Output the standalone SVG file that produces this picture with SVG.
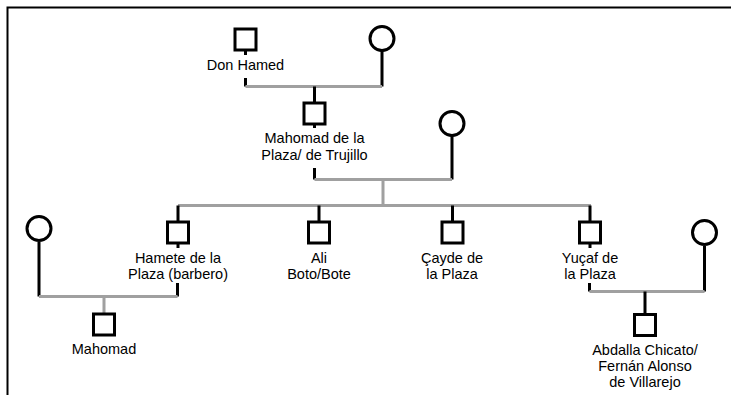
<svg xmlns="http://www.w3.org/2000/svg" width="731" height="395" viewBox="0 0 731 395">
  <style>
    .male { fill: #fff; stroke: #000; stroke-width: 3; }
    .female { fill: #fff; stroke: #000; stroke-width: 3; }
    .stub { stroke: #000; stroke-width: 3; fill: none; }
    .union { stroke: #a0a0a0; stroke-width: 3; fill: none; }
    .frame { stroke: #000; stroke-width: 2; fill: none; }
    text { font-family: "Liberation Sans", Arial, sans-serif; font-size: 14.5px; fill: #000; text-anchor: middle; }
  </style>

  <!-- page frame (top and left edges) -->
  <path class="frame" d="M7.5 395 V7.5 H731"/>

  <g id="connectors">
    <!-- Don Hamed + wife -->
    <path class="stub" d="M245.5 51 V55 M245.5 78 V86.5 M382 51 V86.5"/>
    <path class="union" d="M245.5 86.5 H382"/>
    <path class="stub" d="M314.5 86.5 V102"/>
    <!-- Mahomad de la Plaza + wife -->
    <path class="stub" d="M314.5 125 V128 M314.5 168 V179.5 M452 136 V179.5"/>
    <path class="union" d="M314.5 179.5 H452 M383 179.5 V205.5 M178 205.5 H591"/>
    <path class="stub" d="M178 205.5 V221 M319 205.5 V221 M452.5 205.5 V221 M590 205.5 V221"/>
    <path class="stub" d="M178 244 V248 M590 244 V248"/>
    <!-- Hamete + wife -->
    <path class="stub" d="M39 242 V296.5 M177.5 283 V296.5"/>
    <path class="union" d="M39 296.5 H177.5 M104 296.5 V313"/>
    <!-- Yuçaf + wife -->
    <path class="stub" d="M589.5 283 V291.5 M704.5 246 V291.5"/>
    <path class="union" d="M589.5 291.5 H704.5"/>
    <path class="stub" d="M645 291.5 V314"/>
  </g>

  <g id="don-hamed">
    <rect class="male" x="235" y="29" width="21" height="21"/>
    <text x="245.5" y="70">Don Hamed</text>
  </g>
  <g id="wife-don-hamed">
    <circle class="female" cx="382" cy="38.5" r="12"/>
  </g>

  <g id="mahomad-de-la-plaza">
    <rect class="male" x="304" y="103" width="21" height="21"/>
    <text x="314.5" y="143">Mahomad de la</text>
    <text x="314.5" y="159.5">Plaza/ de Trujillo</text>
  </g>
  <g id="wife-mahomad">
    <circle class="female" cx="452" cy="123.5" r="12"/>
  </g>

  <g id="hamete">
    <rect class="male" x="167.5" y="222" width="21" height="21"/>
    <text x="178" y="263">Hamete de la</text>
    <text x="178" y="279">Plaza (barbero)</text>
  </g>
  <g id="ali">
    <rect class="male" x="308.5" y="222" width="21" height="21"/>
    <text x="319" y="263">Ali</text>
    <text x="319" y="279">Boto/Bote</text>
  </g>
  <g id="cayde">
    <rect class="male" x="442" y="222" width="21" height="21"/>
    <text x="452" y="263">Çayde de</text>
    <text x="452" y="279">la Plaza</text>
  </g>
  <g id="yucaf">
    <rect class="male" x="579.5" y="222" width="21" height="21"/>
    <text x="590" y="263">Yuçaf de</text>
    <text x="590" y="279">la Plaza</text>
  </g>

  <g id="wife-hamete">
    <circle class="female" cx="39" cy="228.5" r="12"/>
  </g>
  <g id="mahomad">
    <rect class="male" x="93.5" y="314" width="21" height="21"/>
    <text x="104" y="354">Mahomad</text>
  </g>

  <g id="wife-yucaf">
    <circle class="female" cx="704.5" cy="232.5" r="12"/>
  </g>
  <g id="abdalla">
    <rect class="male" x="634.5" y="314.5" width="21" height="21"/>
    <text x="645" y="355">Abdalla Chicato/</text>
    <text x="645" y="371">Fernán Alonso</text>
    <text x="645" y="387">de Villarejo</text>
  </g>
</svg>
